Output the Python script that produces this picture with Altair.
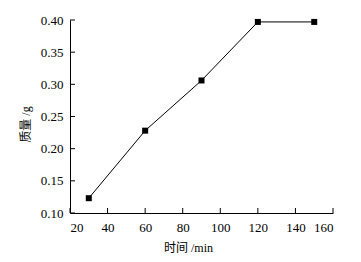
import altair as alt
import pandas as pd

time_min = [30, 60, 90, 120, 150]
mass_g = [0.123, 0.228, 0.306, 0.397, 0.397]
x_ticks = [20, 40, 60, 80, 100, 120, 140, 160]
y_ticks = [0.10, 0.15, 0.20, 0.25, 0.30, 0.35, 0.40]

W, H = 263, 193
df = pd.DataFrame({"t": time_min, "m": mass_g})
xt = pd.DataFrame({"t": x_ticks})
yt = pd.DataFrame({"m": y_ticks})

xscale = alt.Scale(domain=[20, 160], nice=False, zero=False)
yscale = alt.Scale(domain=[0.10, 0.40], nice=False, zero=False)

serif = "'Liberation Serif', 'DejaVu Serif', serif"
mixed = "'Liberation Serif', 'Noto Sans CJK SC', serif"

xaxis = alt.Axis(values=x_ticks, ticks=False, labelPadding=8, format="d",
                 labelFont=serif, labelFontSize=13,
                 title="时间 /min", titleFont=mixed, titleFontWeight="normal",
                 titleFontSize=12, titlePadding=8, titleX=118)
yaxis = alt.Axis(values=y_ticks, ticks=False, labelPadding=7, format=".2f",
                 labelFont=serif, labelFontSize=13,
                 title="质量 /g", titleFont=mixed, titleFontWeight="normal",
                 titleFontSize=12, titlePadding=8, titleY=104)

base = alt.Chart(df)
line = base.mark_line(color="black", strokeWidth=1).encode(
    x=alt.X("t:Q", scale=xscale, axis=xaxis),
    y=alt.Y("m:Q", scale=yscale, axis=yaxis),
)
pts = base.mark_square(color="black", size=36, opacity=1).encode(
    x=alt.X("t:Q", scale=xscale, axis=xaxis), y=alt.Y("m:Q", scale=yscale, axis=yaxis)
)
xtick = alt.Chart(xt).mark_rule(color="black", strokeWidth=1).encode(
    x=alt.X("t:Q", scale=xscale, axis=xaxis), y=alt.value(H), y2=alt.value(H - 5)
)
ytick = alt.Chart(yt).mark_rule(color="black", strokeWidth=1).encode(
    y=alt.Y("m:Q", scale=yscale, axis=yaxis), x=alt.value(0), x2=alt.value(5)
)

chart = alt.layer(line, pts, xtick, ytick).properties(
    width=W, height=H,
    autosize=alt.AutoSizeParams(type="none"),
    padding={"left": 62, "top": 12, "right": 20, "bottom": 40},
    background="white",
).configure_view(stroke=None).configure_axis(
    grid=False, domainColor="black", domainWidth=1,
    labelColor="black", titleColor="black",
)

chart.save("out.html", embed_options={"renderer": "svg", "actions": False})
